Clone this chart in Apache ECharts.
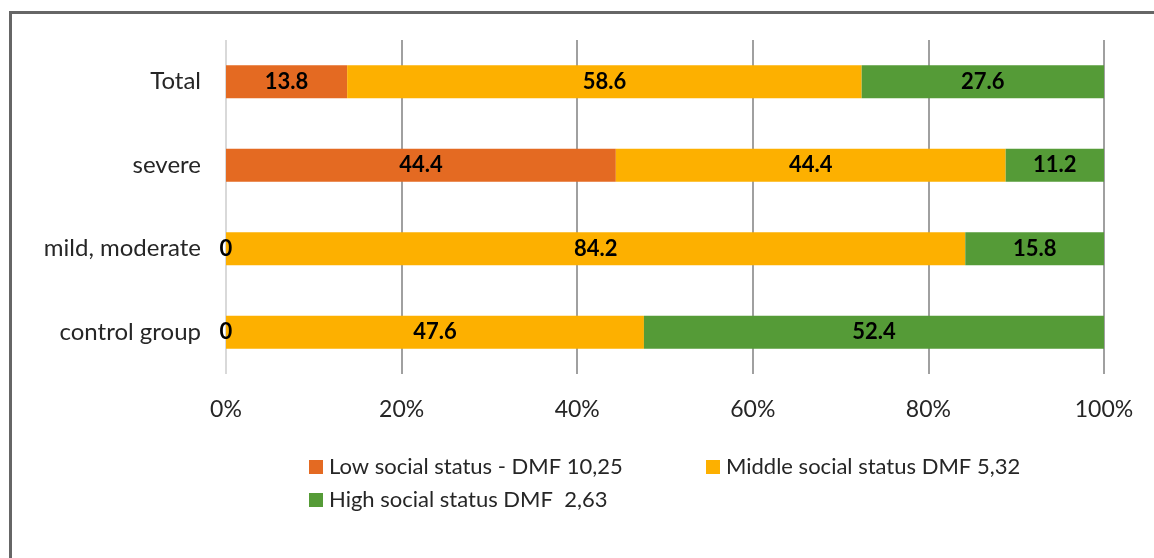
<!DOCTYPE html>
<html>
<head>
<meta charset="utf-8">
<script src="https://cdn.jsdelivr.net/npm/echarts@6/dist/echarts.min.js"></script>
<style>
  html, body { margin: 0; padding: 0; background: #fff; }
  #chart { width: 1154px; height: 558px; }
</style>
</head>
<body>
<div id="chart"></div>
<script>
// groups, top to bottom
const categories = ['Total', 'severe', 'mild, moderate', 'control group'];
const seriesNames = [
  'Low social status - DMF 10,25',
  'Middle social status DMF 5,32',
  'High social status DMF  2,63'
];
const lowValues = [13.8, 44.4, 0, 0];
const middleValues = [58.6, 44.4, 84.2, 47.6];
const highValues = [27.6, 11.2, 15.8, 52.4];
const tickLabels = ['0%', '20%', '40%', '60%', '80%', '100%'];

const colors = ['#E46A22', '#FDB000', '#559B37'];
const font = 'Lato, "Open Sans", sans-serif';

const chart = echarts.init(document.getElementById('chart'));

function makeSeries(name, data, color) {
  return {
    name: name,
    type: 'bar',
    stack: 'all',
    data: data,
    barWidth: 33,
    itemStyle: { color: color },
    label: {
      show: true,
      position: 'inside',
      color: '#000',
      fontFamily: font,
      fontWeight: 'bold',
      fontSize: 22,
      formatter: p => String(p.value)
    }
  };
}

function legendAt(name, left, top) {
  return {
    data: [name],
    left: left,
    top: top,
    orient: 'horizontal',
    itemWidth: 14,
    itemHeight: 14,
    itemGap: 0,
    icon: 'rect',
    selectedMode: false,
    textStyle: { color: '#262626', fontSize: 22, fontFamily: font, padding: [0, 0, 0, 1] }
  };
}

const option = {
  animation: false,
  color: colors,
  graphic: [{
    type: 'rect',
    shape: { x: 10.5, y: 12.5, width: 2000, height: 2000 },
    style: { fill: 'none', stroke: '#666', lineWidth: 3 }
  }],
  legend: [
    legendAt(seriesNames[0], 304, 451),
    legendAt(seriesNames[1], 701, 451),
    legendAt(seriesNames[2], 304, 484)
  ],
  grid: { left: 226, right: 50, top: 40, bottom: 184, containLabel: false },
  xAxis: {
    type: 'value',
    min: 0,
    max: 100,
    interval: 20,
    axisLine: { show: false },
    axisTick: { show: false },
    axisLabel: {
      margin: 24,
      color: '#262626',
      fontSize: 23,
      fontFamily: font,
      formatter: (v) => tickLabels[Math.round(v / 20)]
    },
    splitLine: {
      lineStyle: {
        color: ['#d9d9d9', '#a0a0a0', '#a0a0a0', '#a0a0a0', '#a0a0a0', '#a0a0a0'],
        width: 2
      }
    }
  },
  yAxis: {
    type: 'category',
    data: categories,
    inverse: true,
    axisLine: { show: false },
    axisTick: { show: false },
    axisLabel: {
      margin: 25,
      color: '#262626',
      fontSize: 24,
      fontFamily: font
    }
  },
  series: [
    makeSeries(seriesNames[0], lowValues, colors[0]),
    makeSeries(seriesNames[1], middleValues, colors[1]),
    makeSeries(seriesNames[2], highValues, colors[2])
  ]
};

chart.setOption(option);
</script>
</body>
</html>
